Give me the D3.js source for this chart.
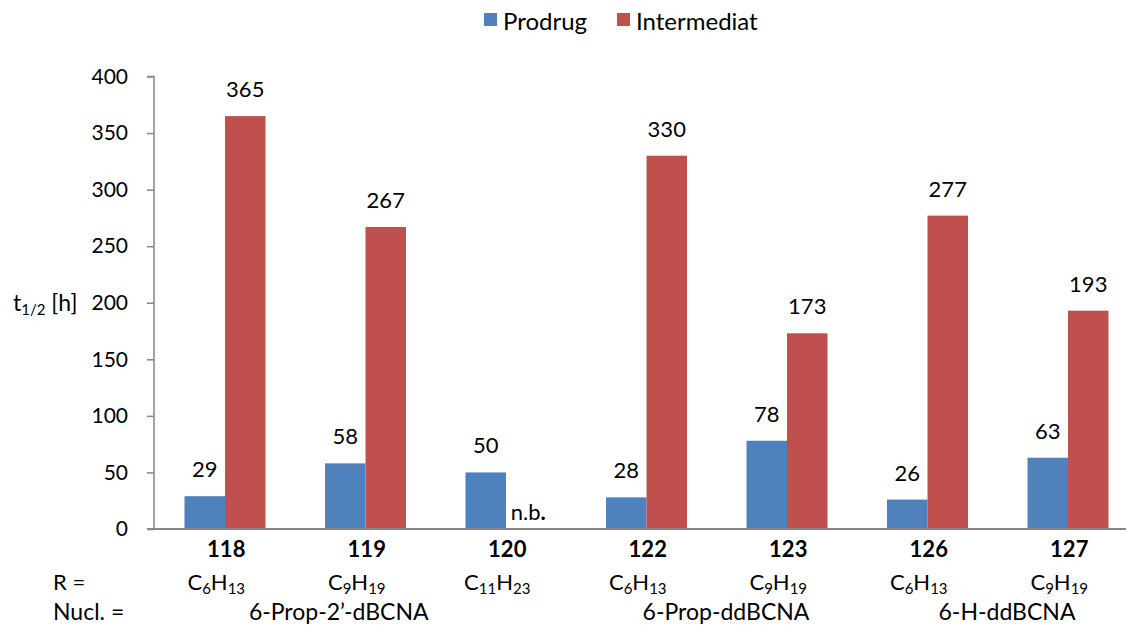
<!DOCTYPE html>
<html><head><meta charset="utf-8">
<script src="https://cdn.jsdelivr.net/npm/d3@7"></script>
<style>body{margin:0;background:#fff}svg{display:block;font-family:Lato,"Open Sans",sans-serif}</style>
</head><body><svg id="c" width="1126" height="625"></svg>
<script>
const categories = ["118","119","120","122","123","126","127"];
const rGroups = [["C","6","H","13"],["C","9","H","19"],["C","11","H","23"],["C","6","H","13"],["C","9","H","19"],["C","6","H","13"],["C","9","H","19"]];
const prodrug = [29,58,50,28,78,26,63];
const intermediat = [365,267,null,330,173,277,193];
const seriesNames = ["Prodrug","Intermediat"];
const nuclGroups = [{name:"6-Prop-2\u2019-dBCNA",cats:["118","120"]},{name:"6-Prop-ddBCNA",cats:["122","123"]},{name:"6-H-ddBCNA",cats:["126","127"]}];
const yTicks = [0,50,100,150,200,250,300,350,400];
const colors = ["#4F81BD","#C0504D"];

const svg = d3.select("#c");
const left = 154, step = 140.5;
const x0 = d3.scaleBand().domain(categories).range([left, left + step*categories.length]).padding(0);
const x1 = d3.scaleBand().domain(seriesNames).range([30.5, 111.5]).padding(0);
const y = d3.scaleLinear().domain([0,400]).range([529, 76.5]);

// y axis
const yAxis = d3.axisLeft(y).tickValues(yTicks).tickSize(7).tickPadding(19);
const gy = svg.append("g").attr("transform",`translate(${left},0)`).call(yAxis);
gy.selectAll("path,line").attr("stroke","#868686").attr("stroke-width",1.5);
gy.select(".domain").attr("d",`M-7,${y(400)}H0V${y(0)}`);
gy.selectAll("text").attr("font-size",21).attr("fill","#000").style("font-family","Lato,sans-serif");

const data = categories.map((c,i)=>({c, vals:[prodrug[i], intermediat[i]]}));
const g = svg.append("g");
data.forEach(d=>{
  d.vals.forEach((v,j)=>{
    const xx = x0(d.c)+x1(seriesNames[j]);
    if(v!=null){
      g.append("rect").attr("x",xx).attr("width",x1.bandwidth()).attr("y",y(v)).attr("height",y(0)-y(v)).attr("fill",colors[j]);
      g.append("text").attr("x",xx+x1.bandwidth()/2).attr("y",y(v)-19).attr("text-anchor","middle").attr("font-size",22).text(v);
    } else {
      const t = g.append("text").attr("x",xx+x1.bandwidth()/2+2).attr("y",y(0)-9).attr("text-anchor","middle").attr("font-size",22);
      t.append("tspan").text("n.b");
      t.append("tspan").attr("font-weight","bold").text(".");
    }
  });
});
// x axis line over bars
svg.append("line").attr("x1",left-7).attr("x2",1126).attr("y1",y(0)).attr("y2",y(0)).attr("stroke","#868686").attr("stroke-width",2);

// category labels
categories.forEach((c,i)=>{
  const cx = x0(c)+step/2;
  svg.append("text").attr("x",cx+2).attr("y",557).attr("text-anchor","middle").attr("font-size",22).attr("font-weight","bold").text(c);
  const t = svg.append("text").attr("x",cx-8).attr("y",590).attr("text-anchor","middle").attr("font-size",22);
  const p = rGroups[i];
  t.append("tspan").text(p[0]);
  t.append("tspan").attr("font-size",15).attr("dy",4).text(p[1]);
  t.append("tspan").attr("dy",-4).text(p[2]);
  t.append("tspan").attr("font-size",15).attr("dy",4).text(p[3]);
});
svg.append("text").attr("x",53).attr("y",590).attr("font-size",22).text("R =");
svg.append("text").attr("x",53).attr("y",620).attr("font-size",23).text("Nucl. =");
nuclGroups.forEach((n,k)=>{
  const a = x0(n.cats[0])+step/2, b = x0(n.cats[1])+step/2;
  svg.append("text").attr("x",(a+b)/2 + [-26,10,10][k]).attr("y",620).attr("text-anchor","middle").attr("font-size",23).text(n.name);
});

// y label
const yl = svg.append("text").attr("x",13).attr("y",311).attr("font-size",23);
yl.append("tspan").text("t");
yl.append("tspan").attr("font-size",15).attr("dy",4).text("1/2");
yl.append("tspan").attr("dy",-4).text(" [h]");

// legend
const lg = svg.append("g");
const lx = [484, 617];
seriesNames.forEach((s,j)=>{
  lg.append("rect").attr("x",lx[j]).attr("y",13).attr("width",13).attr("height",13).attr("fill",colors[j]);
  lg.append("text").attr("x",lx[j]+19).attr("y",30).attr("font-size",24).text(s);
});
</script></body></html>
